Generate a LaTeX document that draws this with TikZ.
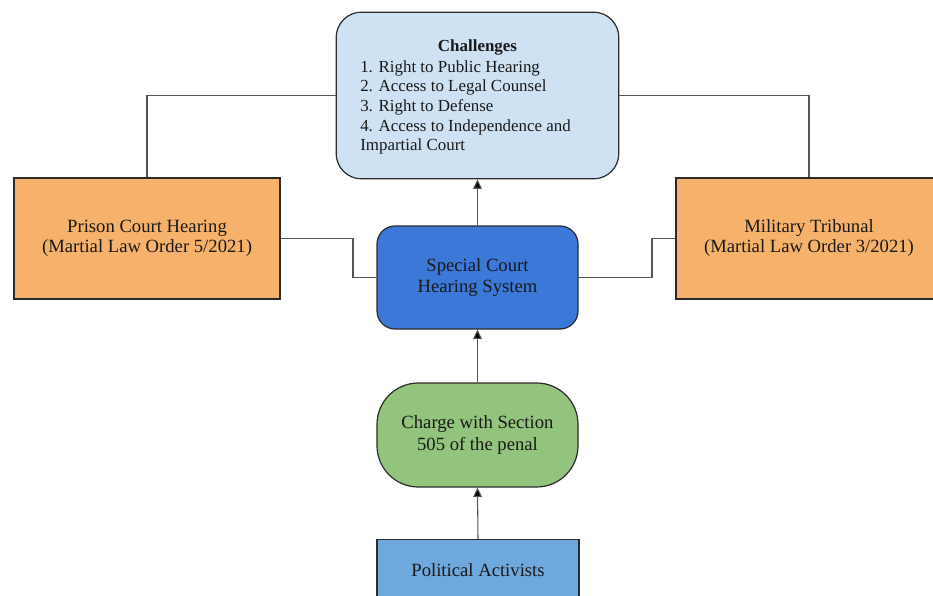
\documentclass[tikz,border=0pt]{standalone}
\usepackage{fontspec}
\setmainfont{Liberation Serif}
\usetikzlibrary{arrows.meta}
\definecolor{chfill}{HTML}{CFE2F3}
\definecolor{orfill}{HTML}{F6B26B}
\definecolor{scfill}{HTML}{3C78D8}
\definecolor{grfill}{HTML}{93C47D}
\definecolor{pafill}{HTML}{6FA8DC}
\definecolor{edge}{HTML}{2B2B2B}
\tikzset{
  boxstyle/.style={draw=edge, line width=0.9pt, inner sep=0pt, align=center,
    font=\fontsize{14}{16.2}\selectfont, text=black!90},
  orbox/.style={boxstyle, fill=orfill, minimum width=199.5pt, minimum height=90.75pt,
    font=\fontsize{14}{15}\selectfont},
  conn/.style={draw=edge!80, line width=0.8pt},
  arr/.style={conn, -{Triangle[width=6.5pt,length=7pt,fill=black]}},
  txt/.style={font=\fontsize{12.7}{14.8}\selectfont, text=black!90, inner sep=0pt}
}
\begin{document}
\begin{tikzpicture}[x=0.75pt,y=-0.75pt]
\useasboundingbox (0,0) rectangle (933,596);
\clip (0,0) rectangle (933,596);
% boxes
\node[boxstyle, fill=chfill, rounded corners=19pt, minimum width=212pt, minimum height=125pt] (ch) at (477.5,95.5) {};
\node[txt, anchor=base] (chtitle) at (477.5,51) {\textbf{Challenges}};
\node[txt, anchor=north west, align=left] (chlist) at (360,60) {1. Right to Public Hearing\\2. Access to Legal Counsel\\3. Right to Defense\\4. Access to Independence and\\Impartial Court};
\node[orbox] (pch) at (147,238.5) {Prison Court Hearing\\(Martial Law Order 5/2021)};
\node[orbox] (mt) at (809,238.5) {Military Tribunal\\(Martial Law Order 3/2021)};
\node[boxstyle, fill=scfill, rounded corners=13.5pt, minimum width=150.75pt, minimum height=77.25pt] (sc) at (477.5,277.5) {Special Court\\Hearing System};
\node[boxstyle, fill=grfill, rounded corners=31pt, minimum width=150.75pt, minimum height=78pt] (cs) at (477.5,435) {Charge with Section\\505 of the penal};
\node[boxstyle, fill=pafill, minimum width=151.5pt, minimum height=46.5pt, anchor=north] (pa) at (478,539) {Political Activists};
% connectors
\draw[arr] (pa.north) -- (cs.south);
\draw[arr] (cs.north) -- (sc.south);
\draw[arr] (sc.north) -- (ch.south);
\draw[conn] (pch.north) |- (ch.west);
\draw[conn] (mt.north) |- (ch.east);
\coordinate (lk) at (353,0);
\coordinate (rk) at (652,0);
\draw[conn] (pch.east) -- (pch.east -| lk) |- (sc.west);
\draw[conn] (sc.east) -- (sc.east -| rk) |- (mt.west);
\end{tikzpicture}
\end{document}
